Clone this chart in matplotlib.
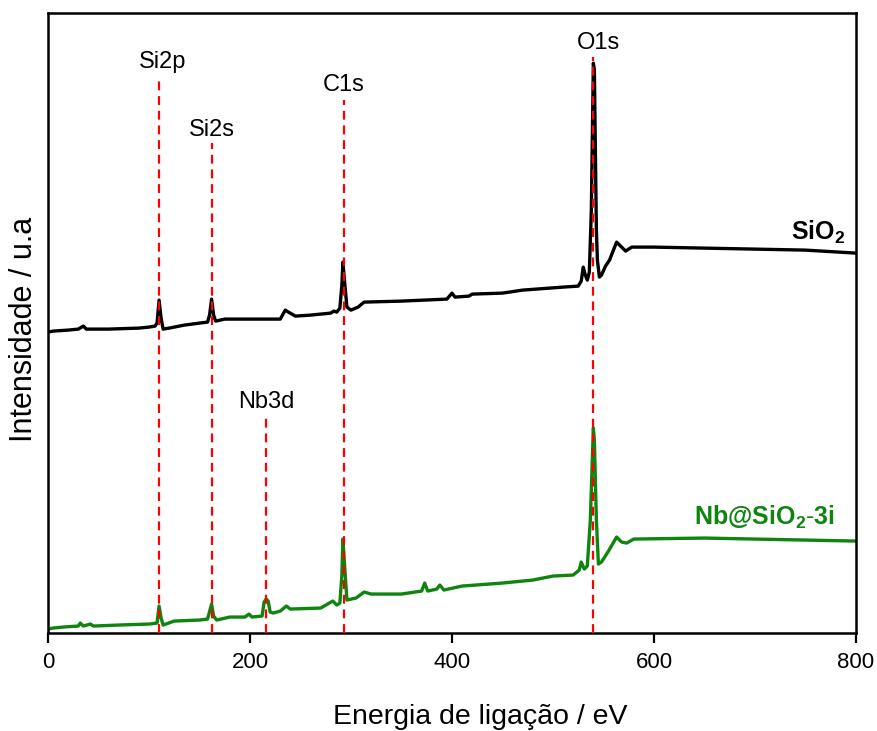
import matplotlib.pyplot as plt

plt.rcParams['font.family'] = ['Liberation Sans', 'DejaVu Sans']
plt.rcParams['mathtext.fontset'] = 'custom'
plt.rcParams['mathtext.rm'] = 'Liberation Sans'
plt.rcParams['mathtext.bf'] = 'Liberation Sans:bold'

# espectro SiO2 (energia de ligacao eV, intensidade u.a.)
sio2_x = [0, 5, 20, 30, 35, 38, 60, 90, 100, 106, 108, 110, 112, 114, 120, 135, 150, 158,
          160, 162, 164, 166, 175, 230, 235, 238, 245, 260, 280, 283, 286, 289, 291, 292,
          294, 296, 300, 307, 313, 350, 395, 400, 403, 417, 420, 450, 470, 510, 525, 528,
          530, 532, 534, 536, 538, 540, 541, 543, 544, 546, 548, 552, 556, 563, 567, 572,
          578, 600, 650, 700, 750, 800]
sio2_y = [301, 302, 303, 304, 307, 304, 304, 305, 306, 307, 310, 333, 315, 304, 305, 308, 310, 311,
          318, 334, 318, 312, 314, 314, 323, 321, 317, 318, 320, 322, 321, 325, 348, 371,
          348, 326, 323, 326, 331, 332, 334, 340, 336, 337, 339, 340, 343, 346, 347, 352,
          366, 358, 353, 361, 423, 570, 563, 403, 373, 356, 358, 367, 373, 391, 387, 382,
          386, 386, 385, 384, 383, 380]

# espectro Nb@SiO2-3i
nb_x = [0, 5, 15, 30, 32, 35, 42, 45, 70, 100, 108, 110, 112, 114, 125, 150, 158, 162, 164,
        167, 180, 195, 199, 202, 212, 214, 216, 218, 220, 223, 230, 236, 240, 270, 282, 286,
        289, 291, 292, 294, 296, 305, 313, 320, 350, 370, 373, 376, 385, 388, 392, 410, 450,
        480, 500, 520, 526, 528, 531, 534, 537, 540, 541, 543, 545, 548, 555, 563, 568, 573,
        580, 650, 700, 750, 800]
nb_y = [4, 5, 6, 7, 10, 7, 9, 7, 8, 9, 10, 27, 15, 8, 12, 13, 14, 29, 17,
        13, 16, 16, 19, 16, 17, 31, 34, 32, 21, 20, 22, 27, 24, 25, 32, 28,
        30, 58, 94, 63, 33, 35, 41, 39, 39, 42, 50, 42, 44, 48, 43, 47, 50,
        53, 57, 58, 63, 71, 64, 67, 113, 205, 193, 113, 69, 71, 82, 96, 91, 90,
        94, 95, 94, 93, 92]

# picos identificados
peak_names = ['Si2p', 'Si2s', 'Nb3d', 'C1s', 'O1s']
peak_x = [110, 162, 216, 293, 540]
peak_top = [555, 490, 215, 533, 576]
label_x = [113, 162, 216, 293, 545]
label_y = [571, 503, 231, 548, 590]

fig = plt.figure(figsize=(8.77, 7.31), dpi=100)
ax = fig.add_axes([0.0547, 0.134, 0.9213, 0.848])

ax.plot(sio2_x, sio2_y, color='black', lw=2.4, zorder=2)
ax.plot(nb_x, nb_y, color='#0f840f', lw=2.4, zorder=2)

for name, px, top, lx, ly in zip(peak_names, peak_x, peak_top, label_x, label_y):
    ax.plot([px, px], [0, top], color='red', ls=(0, (4, 2.6)), lw=1.6, zorder=3)
    ax.text(lx, ly, name, ha='center', va='center', fontsize=17)

ax.text(789, 401, r'$\mathbf{SiO_2}$', ha='right', va='center', fontsize=18, color='black')
ax.text(779, 116, r'$\mathbf{Nb@SiO_2}$' + r'$\mathbf{\text{-}3i}$', ha='right', va='center',
        fontsize=18, color='#0f840f')

ax.set_xlim(0, 800)
ax.set_ylim(0, 620)
ax.set_xticks([0, 200, 400, 600, 800])
ax.set_yticks([])
ax.tick_params(axis='x', direction='out', length=7, width=1.6, labelsize=16, pad=7)
for s in ax.spines.values():
    s.set_linewidth(1.8)

ax.set_xlabel('Energia de ligação / eV', fontsize=20.5)
ax.set_ylabel('Intensidade / u.a', fontsize=22)
ax.xaxis.set_label_coords(0.535, -0.115)
ax.yaxis.set_label_coords(-0.011, 0.49)

fig.savefig('out.png', dpi=100)
